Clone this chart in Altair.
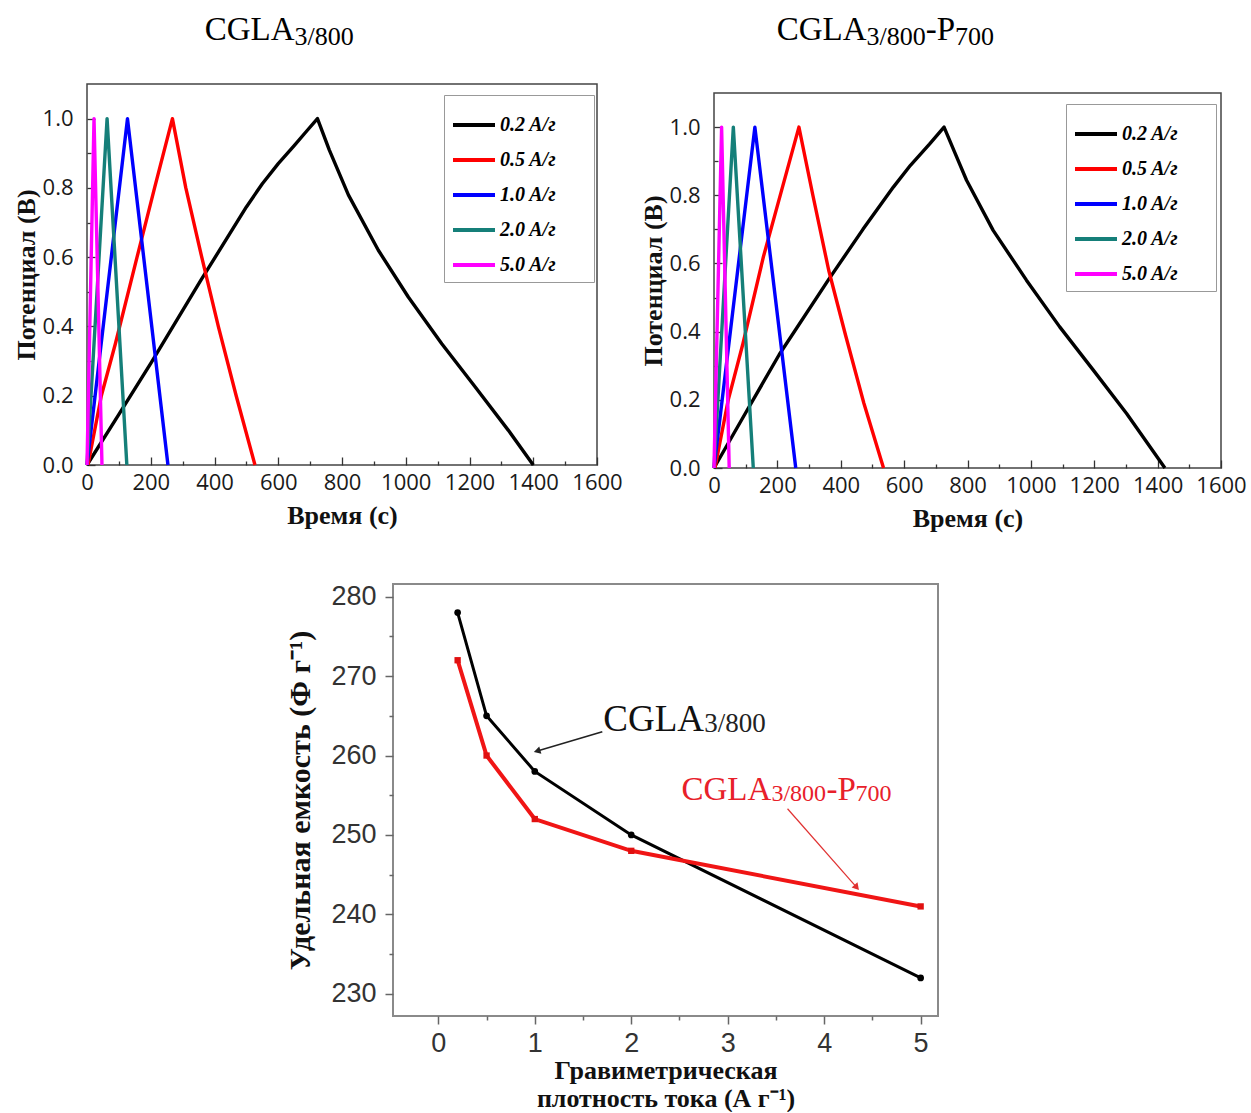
import altair as alt
import pandas as pd

# ---------------- data ----------------
RATES = ["0.2 A/г", "0.5 A/г", "1.0 A/г", "2.0 A/г", "5.0 A/г"]
RATE_COLORS = ["#000000", "#ff0000", "#0000ff", "#157f79", "#ff00ff"]

# CGLA3/800 (left panel): time (s) and potential (V)
L02_T = [0, 100, 201, 355, 500, 550, 600, 650, 690, 723, 760, 820, 914, 1008, 1113, 1218, 1322, 1400]
L02_V = [0, 0.146, 0.295, 0.53, 0.745, 0.812, 0.87, 0.922, 0.965, 1.0, 0.91, 0.78, 0.62, 0.485, 0.35, 0.225, 0.10, 0]
L05_T = [3, 45, 89, 157, 212, 268, 310, 360, 412, 468, 527]
L05_V = [0, 0.2, 0.35, 0.6, 0.8, 1.0, 0.8, 0.6, 0.4, 0.2, 0]
L10_T = [0, 127, 254]
L10_V = [0, 1.0, 0]
L20_T = [0, 63, 125]
L20_V = [0, 1.0, 0]
L50_T = [0, 22, 47]
L50_V = [0, 1.0, 0]

# CGLA3/800-P700 (right panel)
R02_T = [0, 100, 206, 361, 470, 566, 620, 680, 726, 760, 797, 881, 986, 1091, 1197, 1302, 1423]
R02_V = [0, 0.162, 0.333, 0.552, 0.70, 0.824, 0.888, 0.95, 1.0, 0.925, 0.844, 0.697, 0.551, 0.414, 0.287, 0.16, 0]
R05_T = [3, 45, 90, 156, 212, 268, 312, 362, 415, 473, 535]
R05_V = [0, 0.2, 0.36, 0.62, 0.81, 1.0, 0.8, 0.58, 0.39, 0.19, 0]
R10_T = [0, 129, 258]
R10_V = [0, 1.0, 0]
R20_T = [0, 61, 124]
R20_V = [0, 1.0, 0]
R50_T = [0, 24, 48]
R50_V = [0, 1.0, 0]

X_TICKS = [0, 100, 200, 300, 400, 500, 600, 700, 800, 900, 1000, 1100, 1200, 1300, 1400, 1500, 1600]
Y_TICKS = [0.0, 0.1, 0.2, 0.3, 0.4, 0.5, 0.6, 0.7, 0.8, 0.9, 1.0]

# rate capability (bottom panel)
RC_X = [0.2, 0.5, 1, 2, 5]
RC_A = [278, 265, 258, 250, 232]   # CGLA3/800
RC_B = [272, 260, 252, 248, 241]   # CGLA3/800-P700
RC_XTICKS = [0, 0.5, 1, 1.5, 2, 2.5, 3, 3.5, 4, 4.5, 5]
RC_YTICKS = [230, 235, 240, 245, 250, 255, 260, 265, 270, 275, 280]

# annotations (data units) in the bottom panel
ANN_A_POS = [1.71, 263.1]
ANN_B_POS = [2.52, 254.4]
ARROW_A = [1.70, 263.0, 1.035, 260.6]
ARROW_B = [3.62, 253.3, 4.33, 243.5]

SERIF = "Liberation Serif"
# trailing non-breaking spaces (kept by a zero-width end mark) widen the legend box
LEGEND_PAD = "\u00a0" * 6 + "\u200b"

# ---------------- helpers ----------------
def gcd_df(ts, vs):
    rows = []
    for rate, t, v in zip(RATES, ts, vs):
        for i, (a, b) in enumerate(zip(t, v)):
            rows.append({"rate": rate, "t": a, "v": b, "i": i})
    return pd.DataFrame(rows)


AX_TOP = dict(labelFont="Open Sans", labelFontSize=22, labelColor="#1a1a1a",
              titleFont=SERIF, titleFontSize=26, titleFontWeight="bold", titleColor="#111",
              domain=False, grid=False, tickColor="#333", tickWidth=1.3,
              labelOverlap=False, labelFlush=False)

NOSTROKE = alt.ViewBackground(strokeOpacity=0)


def text_seg(txt, size, px, py):
    return alt.Chart(pd.DataFrame({"s": [txt]})).mark_text(
        font=SERIF, fontSize=size, align="left", baseline="alphabetic", color="black"
    ).encode(x=alt.value(px), y=alt.value(py), text="s:N")


def gcd_panel(df, w, h, lx, ly):
    lines = alt.Chart(df).mark_line(strokeWidth=3.4, strokeJoin="round").encode(
        x=alt.X("t:Q", scale=alt.Scale(domain=[0, 1600], nice=False, zero=False),
                axis=alt.Axis(title="Время (с)", values=X_TICKS, format="d",
                              labelExpr="datum.value % 200 === 0 ? datum.label : ''",
                              tickSize={"expr": "datum.value % 200 === 0 ? -8 : -4"},
                              labelPadding=15, titlePadding=5, **AX_TOP)),
        y=alt.Y("v:Q", scale=alt.Scale(domain=[0, 1.1], nice=False),
                axis=alt.Axis(title="Потенциал (В)", values=Y_TICKS, format=".1f",
                              labelExpr="round(datum.value * 10) % 2 === 0 ? datum.label : ''",
                              tickSize={"expr": "round(datum.value * 10) % 2 === 0 ? -8 : -4"},
                              labelPadding=22, titlePadding=3, **AX_TOP)),
        color=alt.Color("rate:N", sort=RATES,
                        scale=alt.Scale(domain=RATES, range=RATE_COLORS),
                        legend=alt.Legend(title=None, orient="none", legendX=lx, legendY=ly,
                                          direction="vertical", symbolType="stroke",
                                          symbolSize=1764, symbolStrokeWidth=4,
                                          labelFont=SERIF, labelFontSize=20,
                                          labelFontStyle="italic", labelFontWeight="bold",
                                          labelColor="black", labelOffset=3,
                                          labelExpr="datum.label + '" + LEGEND_PAD + "'",
                                          strokeColor="#999", fillColor="white",
                                          padding=7, rowPadding=2)),
        order=alt.Order("i:Q"),
    )
    return lines.properties(width=w, height=h)


left = gcd_panel(gcd_df([L02_T, L05_T, L10_T, L20_T, L50_T], [L02_V, L05_V, L10_V, L20_V, L50_V]),
                 510, 381, 357, 11)
right = gcd_panel(gcd_df([R02_T, R05_T, R10_T, R20_T, R50_T], [R02_V, R05_V, R10_V, R20_V, R50_V]),
                  507, 375, 352, 11)

# small vertical offset for the right panel (its frame starts lower)
tr_spacer = alt.Chart(pd.DataFrame({"s": [""]})).mark_text().encode(
    x=alt.value(0), y=alt.value(0), text="s:N").properties(width=1, height=8, view=NOSTROKE)
right_col = alt.vconcat(tr_spacer, right, spacing=0).resolve_scale(
    color="independent").resolve_legend(color="independent")

# panel titles (row above the two top panels), x relative to left plot origin
title_row = alt.layer(
    text_seg("CGLA", 33, 117.7, 40), text_seg("3/800", 26, 207.5, 45),
    text_seg("CGLA", 33, 689.7, 40), text_seg("3/800", 26, 779.5, 45),
    text_seg("-P", 33, 838.7, 40), text_seg("700", 26, 868, 45),
).properties(width=1000, height=50, view=NOSTROKE)

# ---------------- bottom panel ----------------
rc_df = pd.DataFrame({"x": RC_X + RC_X, "c": RC_A + RC_B,
                      "s": ["A"] * len(RC_X) + ["B"] * len(RC_X)})

XS = alt.Scale(domain=[-0.47, 5.18], nice=False, zero=False)
YS = alt.Scale(domain=[227.2, 281.6], nice=False, zero=False)
AX_B = dict(labelFont="Liberation Sans", labelFontSize=27, labelColor="#333",
            titleFont=SERIF, titleFontWeight="bold", titleColor="#111",
            domain=False, grid=False, tickColor="#666", tickWidth=1.5, labelOverlap=False,
            labelFlush=False)

xenc = alt.X("x:Q", scale=XS, axis=alt.Axis(
    title=["Гравиметрическая", "плотность тока (А г⁻¹)"], values=RC_XTICKS, format=".0f",
    labelExpr="datum.value % 1 === 0 ? datum.label : ''",
    tickSize={"expr": "datum.value % 1 === 0 ? 8 : 4"},
    titleFontSize=26, titleLineHeight=28, labelPadding=6, titlePadding=1, **AX_B))
yenc = alt.Y("c:Q", scale=YS, axis=alt.Axis(
    title="Удельная емкость (Ф г⁻¹)", values=RC_YTICKS,
    labelExpr="datum.value % 10 === 0 ? datum.label : ''",
    tickSize={"expr": "datum.value % 10 === 0 ? 8 : 4"},
    titleFontSize=30, labelPadding=9, titlePadding=15, **AX_B))

base_a = alt.Chart(rc_df).transform_filter("datum.s === 'A'")
base_b = alt.Chart(rc_df).transform_filter("datum.s === 'B'")
line_a = base_a.mark_line(color="#000000", strokeWidth=3).encode(x=xenc, y=yenc)
pts_a = base_a.mark_point(color="#000000", filled=True, size=45, opacity=1).encode(x="x:Q", y="c:Q")
line_b = base_b.mark_line(color="#f01515", strokeWidth=4).encode(x="x:Q", y="c:Q")
pts_b = base_b.mark_square(color="#e01010", size=40, opacity=1).encode(x="x:Q", y="c:Q")

arr_df = pd.DataFrame({"x": [ARROW_A[0], ARROW_B[0]], "y": [ARROW_A[1], ARROW_B[1]],
                       "x2": [ARROW_A[2], ARROW_B[2]], "y2": [ARROW_A[3], ARROW_B[3]],
                       "col": ["#222222", "#e03030"], "w": [1.6, 1.2], "ang": [253.5, 138.9]})
arrows = alt.Chart(arr_df).mark_rule().encode(
    x="x:Q", y="y:Q", x2="x2:Q", y2="y2:Q",
    color=alt.Color("col:N", scale=None), strokeWidth=alt.StrokeWidth("w:Q", scale=None))
heads = alt.Chart(arr_df).mark_point(shape="triangle", filled=True, size=60, opacity=1).encode(
    x="x2:Q", y="y2:Q", color=alt.Color("col:N", scale=None), angle=alt.Angle("ang:Q", scale=None))


def ann(txt, size, pos, dx, dy, color):
    return alt.Chart(pd.DataFrame({"s": [txt], "x": [pos[0]], "y": [pos[1]]})).mark_text(
        font=SERIF, fontSize=size, align="left", baseline="alphabetic", color=color, dx=dx, dy=dy
    ).encode(x="x:Q", y="y:Q", text="s:N")


ann_layers = [
    ann("CGLA", 37, ANN_A_POS, 0, 0, "#111111"),
    ann("3/800", 27, ANN_A_POS, 101, 1, "#222222"),
    ann("CGLA", 33, ANN_B_POS, 0, 0, "#e8202a"),
    ann("3/800", 24, ANN_B_POS, 90, 1, "#e8202a"),
    ann("-P", 33, ANN_B_POS, 145, 0, "#e8202a"),
    ann("700", 24, ANN_B_POS, 174, 1, "#e8202a"),
]

bottom = alt.layer(line_a, line_b, pts_a, pts_b, arrows, heads, *ann_layers).properties(
    width=545, height=432, view=alt.ViewBackground(stroke="#8a8a8a", strokeWidth=2))

spacer = alt.Chart(pd.DataFrame({"s": [""]})).mark_text().encode(
    x=alt.value(0), y=alt.value(0), text="s:N"
).properties(width=197, height=10, view=NOSTROKE)

top_row = alt.hconcat(left, right_col, spacing=16).resolve_scale(
    color="independent").resolve_legend(color="independent")
top_block = alt.vconcat(title_row, top_row, spacing=28).resolve_scale(
    color="independent").resolve_legend(color="independent")

chart = alt.vconcat(
    top_block,
    alt.hconcat(spacer, bottom, spacing=0),
    spacing=46,
).resolve_scale(color="independent").resolve_legend(color="independent").configure(
    padding={"left": 12, "top": 0, "right": 0, "bottom": 0}, background="white"
).configure_view(stroke="#444", strokeWidth=1.5)

chart.save("out.html", embed_options={"renderer": "svg", "actions": False})
